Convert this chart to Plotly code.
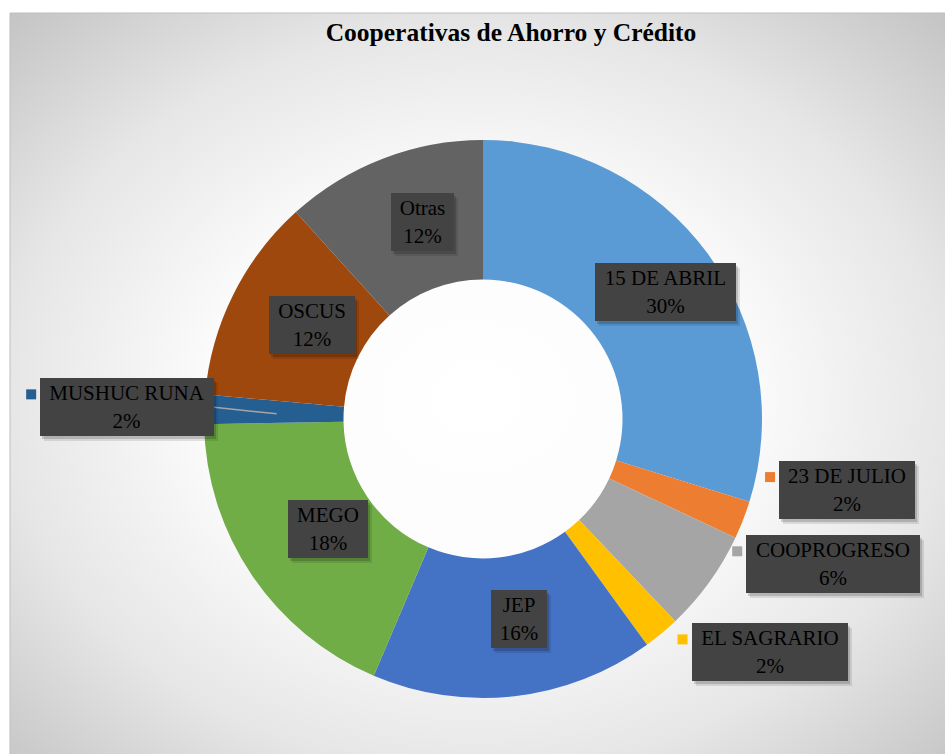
import base64
import math

from plotly import graph_objects as go

W, H = 945, 754

labels = ["15 DE ABRIL", "23 DE JULIO", "COOPROGRESO", "EL SAGRARIO", "JEP",
          "MEGO", "MUSHUC RUNA", "OSCUS", "Otras"]
values = [29.8, 2.2, 5.9, 2.1, 16.4, 18.3, 1.7, 11.9, 11.7]
colors = ["#5B9BD5", "#ED7D31", "#A5A5A5", "#FFC000", "#4472C4",
          "#70AD47", "#255E91", "#9E480E", "#636363"]
title_text = "Cooperativas de Ahorro y Crédito"

# label placement: (radius fraction on slice mid-angle, dx px, dy px, box width px, outside)
label_style = {
    "15 DE ABRIL": (0.75, 14, -3, 141, False),
    "23 DE JULIO": (1.0, 104, -30, 136, True),
    "COOPROGRESO": (1.0, 124, -18, 174, True),
    "EL SAGRARIO": (1.0, 108, 19, 156, True),
    "JEP": (0.75, 12, -8, 56, False),
    "MEGO": (0.75, 18, -7, 80, False),
    "MUSHUC RUNA": (1.0, -77, -2, 174, True),
    "OSCUS": (0.75, 16, -1, 86, False),
    "Otras": (0.75, 15, -2, 63, False),
}
BOX_H = 58
SERIF = "Liberation Serif"

dom_x = [204 / W, 762 / W]
dom_y = [1 - 698 / H, 1 - 140 / H]
cx = (dom_x[0] + dom_x[1]) / 2 * W
cy = (1 - (dom_y[0] + dom_y[1]) / 2) * H
R = min((dom_x[1] - dom_x[0]) * W, (dom_y[1] - dom_y[0]) * H) / 2


def px_to_paper(px, py):
    return px / W, 1 - py / H


fig = go.Figure()
fig.add_trace(
    go.Pie(
        labels=labels,
        values=values,
        hole=0.5,
        sort=False,
        direction="clockwise",
        rotation=0,
        marker=dict(colors=colors, line=dict(width=0)),
        textinfo="none",
        showlegend=False,
        domain=dict(x=dom_x, y=dom_y),
    )
)

# radial grey background of the chart area
bg_svg = (
    '<svg xmlns="http://www.w3.org/2000/svg" width="935" height="741" '
    'viewBox="0 0 935 741" preserveAspectRatio="none"><defs>'
    '<radialGradient id="g" cx="0.5" cy="0.52" r="0.72">'
    '<stop offset="0" stop-color="#ffffff"/>'
    '<stop offset="0.4" stop-color="#fbfbfb"/>'
    '<stop offset="0.7" stop-color="#e6e6e6"/>'
    '<stop offset="1" stop-color="#c4c4c4"/>'
    '</radialGradient></defs>'
    '<rect width="935" height="741" fill="url(#g)"/></svg>'
)
bg_src = "data:image/svg+xml;base64," + base64.b64encode(bg_svg.encode()).decode()

annotations = []
shapes = [
    dict(type="rect", xref="paper", yref="paper",
         x0=10 / W, y0=-0.02, x1=1.02, y1=1 - 13 / H,
         line=dict(color="#bfbfbf", width=1), fillcolor="rgba(0,0,0,0)",
         layer="below"),
]

total = sum(values)
cum = 0
for name, val, col in zip(labels, values, colors):
    mid = (cum + val / 2) / total * 2 * math.pi
    cum += val
    f, dx, dy, bw, outside = label_style[name]
    bx = cx + f * R * math.sin(mid) + dx
    by = cy - f * R * math.cos(mid) + dy
    x, y = px_to_paper(bx, by)
    pct = round(val / total * 100)

    # soft drop shadow
    for sx, sy, a in [(2, -3, 0.16), (4, -5, 0.10)]:
        annotations.append(dict(
            x=x, y=y, xref="paper", yref="paper", text=" ", showarrow=False,
            xanchor="center", yanchor="middle", width=bw, height=BOX_H,
            xshift=sx, yshift=sy, bgcolor=f"rgba(0,0,0,{a})",
            borderwidth=0, borderpad=0,
        ))
    annotations.append(dict(
        x=x, y=y, xref="paper", yref="paper",
        text=f"{name}<br>{pct}%", showarrow=False,
        xanchor="center", yanchor="middle", align="center",
        width=bw, height=BOX_H, bgcolor="#434343",
        borderwidth=0, borderpad=0,
        font=dict(family=SERIF, size=21, color="#000000"),
    ))

    if outside:
        left = bx - bw / 2
        top = by - BOX_H / 2
        sqx, sqy = left - 9, top + 16
        x0, y0 = px_to_paper(sqx - 5, sqy + 5)
        x1, y1 = px_to_paper(sqx + 5, sqy - 5)
        shapes.append(dict(type="rect", xref="paper", yref="paper",
                           x0=x0, y0=y0, x1=x1, y1=y1,
                           fillcolor=col, line=dict(width=0)))
    if name == "MUSHUC RUNA":
        lx0, ly0 = px_to_paper(bx + bw / 2, by)
        ex = cx + 0.74 * R * math.sin(mid)
        ey = cy - 0.74 * R * math.cos(mid)
        lx1, ly1 = px_to_paper(ex, ey + 2)
        shapes.append(dict(type="line", xref="paper", yref="paper",
                           x0=lx0, y0=ly0, x1=lx1, y1=ly1,
                           line=dict(color="#a6a6a6", width=1.5)))

fig.update_layout(
    width=W,
    height=H,
    title=dict(
        text=f"<b>{title_text}</b>",
        x=511 / W,
        y=1 - 32 / H,
        xanchor="center",
        yanchor="middle",
        font=dict(family=SERIF, size=25.5, color="#000000"),
    ),
    images=[dict(
        source=bg_src, xref="paper", yref="paper",
        x=10 / W, y=1 - 13 / H, sizex=935 / W, sizey=741 / H,
        xanchor="left", yanchor="top", sizing="stretch", layer="below",
    )],
    annotations=annotations,
    shapes=shapes,
    paper_bgcolor="#ffffff",
    plot_bgcolor="rgba(0,0,0,0)",
    margin=dict(l=0, r=0, t=0, b=0),
)

fig.write_html(
    "out.html",
    config={"displayModeBar": False},
    post_script="document.body.style.margin = '0'; document.body.style.overflow = 'hidden';",
)
